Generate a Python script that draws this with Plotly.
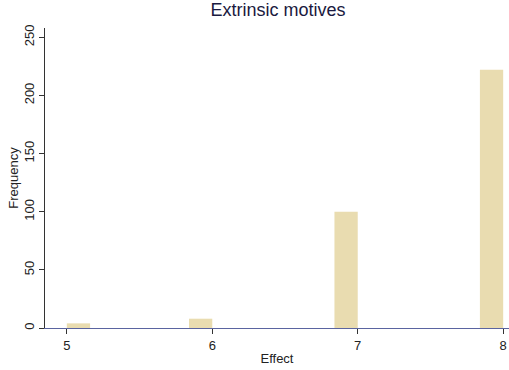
import plotly.graph_objects as go

effect = [5, 6, 7, 8]
frequency = [4, 8, 100, 222]
bar_offset = [0, -0.16, -0.16, -0.16]
y_ticks = [0, 50, 100, 150, 200, 250]
x_ticks = [5, 6, 7, 8]

fig = go.Figure(go.Bar(
    x=effect, y=frequency, width=0.16, offset=bar_offset,
    marker=dict(color="#e9dcb0", line=dict(width=0)),
))

fig.update_layout(
    width=509, height=370,
    margin=dict(l=45, r=0, t=28, b=42),
    paper_bgcolor="white", plot_bgcolor="white",
    showlegend=False,
    title=dict(text="Extrinsic motives", x=0.546, xanchor="center", y=0.99, yanchor="top",
               font=dict(family="Liberation Sans, Arial", size=18, color="#1a1a40")),
    font=dict(family="Liberation Sans, Arial", color="#222"),
)
fig.update_xaxes(
    range=[4.85, 8.04], tickvals=x_ticks, ticks="outside", ticklen=5, tickcolor="#333",
    showline=True, linecolor="#5a64a0", linewidth=1, showgrid=False, zeroline=False,
    automargin=False,
    tickfont=dict(size=13), title=dict(text="Effect", font=dict(size=13), standoff=2),
)
fig.update_yaxes(
    range=[0, 258], tickvals=y_ticks, ticks="outside", ticklen=5, tickcolor="#333",
    showline=True, linecolor="#333", linewidth=1, showgrid=False, zeroline=False,
    automargin=False,
    tickangle=-90, tickfont=dict(size=13), title=dict(text="Frequency", font=dict(size=13), standoff=0),
)

fig.write_html("out.html", config={"displayModeBar": False},
               post_script="document.body.style.margin='0';document.body.style.overflow='hidden';")
